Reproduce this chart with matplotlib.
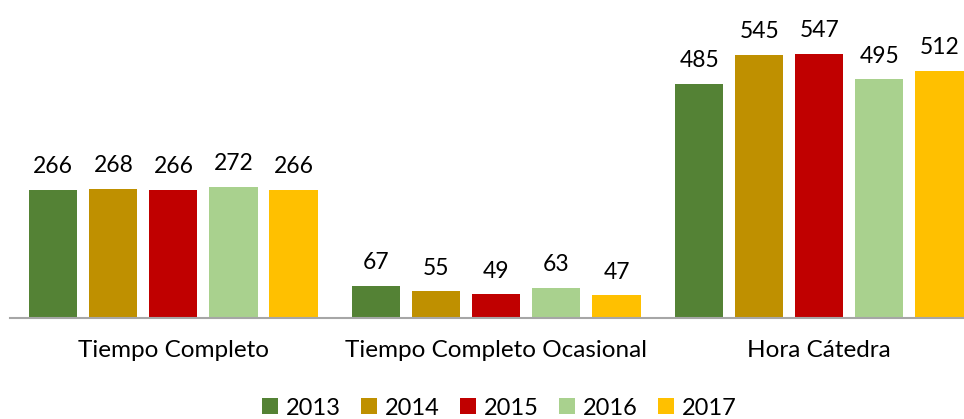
import numpy as np
import matplotlib
matplotlib.use("Agg")
import matplotlib.pyplot as plt

plt.rcParams['font.family'] = ['Lato', 'DejaVu Sans']

categories = ["Tiempo Completo", "Tiempo Completo Ocasional", "Hora Cátedra"]
years = ["2013", "2014", "2015", "2016", "2017"]
values = {
    "2013": [266, 67, 485],
    "2014": [268, 55, 545],
    "2015": [266, 49, 547],
    "2016": [272, 63, 495],
    "2017": [266, 47, 512],
}
colors = ["#548235", "#BF9000", "#C00000", "#A9D18E", "#FFC000"]

fig = plt.figure(figsize=(9.64, 4.19), dpi=100)
ax = fig.add_axes([10 / 964, 1 - 318 / 419, 1 - 10 / 964, 308 / 419])

x = np.arange(len(categories))
width = 0.149
step = 0.186
for i, (yr, c) in enumerate(zip(years, colors)):
    pos = x + (i - 2) * step
    bars = ax.bar(pos, values[yr], width, color=c, label=yr, zorder=2)
    for b, v in zip(bars, values[yr]):
        ax.annotate(str(v), (b.get_x() + b.get_width() / 2, v),
                    xytext=(0, 9), textcoords="offset points",
                    ha="center", va="bottom", fontsize=16.5)

ax.set_xlim(-0.506, 2.448)
ax.set_ylim(0, 638)
ax.set_yticks([])
ax.set_xticks(x)
ax.set_xticklabels(categories, fontsize=17.5)
ax.tick_params(axis="x", length=0, pad=16)
for s in ["top", "right", "left"]:
    ax.spines[s].set_visible(False)
ax.spines["bottom"].set_color("#A6A6A6")
ax.spines["bottom"].set_linewidth(1.5)

fig.legend(loc="center", bbox_to_anchor=(0.518, 1 - 408 / 419), ncol=5,
           frameon=False, fontsize=17, handlelength=0.68, handleheight=0.68,
           handletextpad=0.34, columnspacing=0.85)

fig.savefig("out.png", dpi=100)
